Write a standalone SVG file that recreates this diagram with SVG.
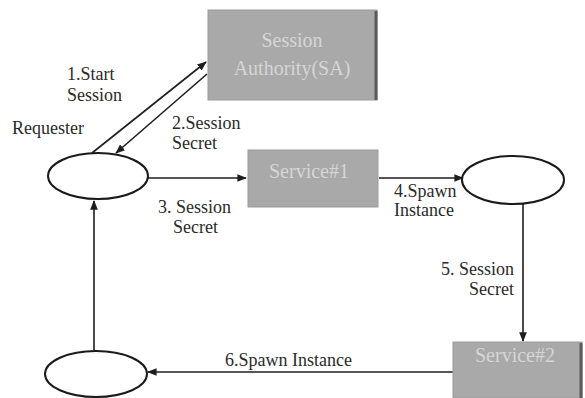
<svg xmlns="http://www.w3.org/2000/svg" width="585" height="398" viewBox="0 0 585 398">
<defs>
<style>
.lbl{font-family:"Liberation Serif","Times New Roman",serif;font-size:18px;fill:#2a2a2a}
.btxt{font-family:"Liberation Serif","Times New Roman",serif;font-size:20px;fill:#d6d6d6;text-anchor:middle}
.box{fill:#a9a9a9;stroke:#9a9a9a;stroke-width:1}
.shadow{stroke:#5a5a5a;stroke-width:3}
.ell{fill:#ffffff;stroke:#1a1a1a;stroke-width:2}
.conn{stroke:#1e1e1e;stroke-width:1.6;fill:none;marker-end:url(#arr)}
</style>
<marker id="arr" viewBox="0 0 10 10" refX="9" refY="5" markerWidth="6" markerHeight="6" orient="auto" markerUnits="strokeWidth">
<path d="M0,1 L10,5 L0,9 z" fill="#1e1e1e"/>
</marker>
</defs>
<rect width="585" height="398" fill="#ffffff"/>
<g id="connectors">
<line class="conn" x1="92" y1="153" x2="206" y2="62"/>
<line class="conn" x1="207" y1="74" x2="116" y2="153"/>
<line class="conn" x1="148" y1="178" x2="246" y2="178"/>
<line class="conn" x1="379" y1="178" x2="463" y2="178"/>
<line class="conn" x1="523" y1="204" x2="523" y2="341"/>
<line class="conn" x1="453" y1="372" x2="148" y2="372"/>
<line class="conn" x1="94" y1="351" x2="94" y2="201"/>
</g>
<g id="sa">
<rect class="box" x="208" y="10" width="169" height="90"/>
<line class="shadow" x1="376" y1="11" x2="376" y2="100"/>
<text class="btxt" x="292" y="47">Session</text>
<text class="btxt" x="292" y="75">Authority(SA)</text>
</g>
<g id="service1">
<rect class="box" x="248" y="150" width="130" height="57"/>
<text class="btxt" x="309" y="178">Service#1</text>
</g>
<g id="service2">
<rect class="box" x="453" y="342" width="129" height="56"/>
<line class="shadow" x1="581" y1="343" x2="581" y2="398"/>
<text class="btxt" x="515" y="362">Service#2</text>
</g>
<g id="requester">
<ellipse class="ell" cx="98" cy="176" rx="50" ry="23"/>
</g>
<g id="instance1">
<ellipse class="ell" cx="513" cy="180" rx="51" ry="24"/>
</g>
<g id="instance2">
<ellipse class="ell" cx="96" cy="374" rx="51" ry="23"/>
</g>
<g id="labels">
<text class="lbl" x="67" y="80">1.Start</text>
<text class="lbl" x="67" y="101">Session</text>
<text class="lbl" x="12" y="134">Requester</text>
<text class="lbl" x="172" y="129">2.Session</text>
<text class="lbl" x="172" y="149">Secret</text>
<text class="lbl" x="158" y="213">3. Session</text>
<text class="lbl" x="173" y="233">Secret</text>
<text class="lbl" x="394" y="197">4.Spawn</text>
<text class="lbl" x="394" y="216">Instance</text>
<text class="lbl" x="514" y="275" text-anchor="end">5. Session</text>
<text class="lbl" x="514" y="295" text-anchor="end">Secret</text>
<text class="lbl" x="225" y="366">6.Spawn Instance</text>
</g>
</svg>
